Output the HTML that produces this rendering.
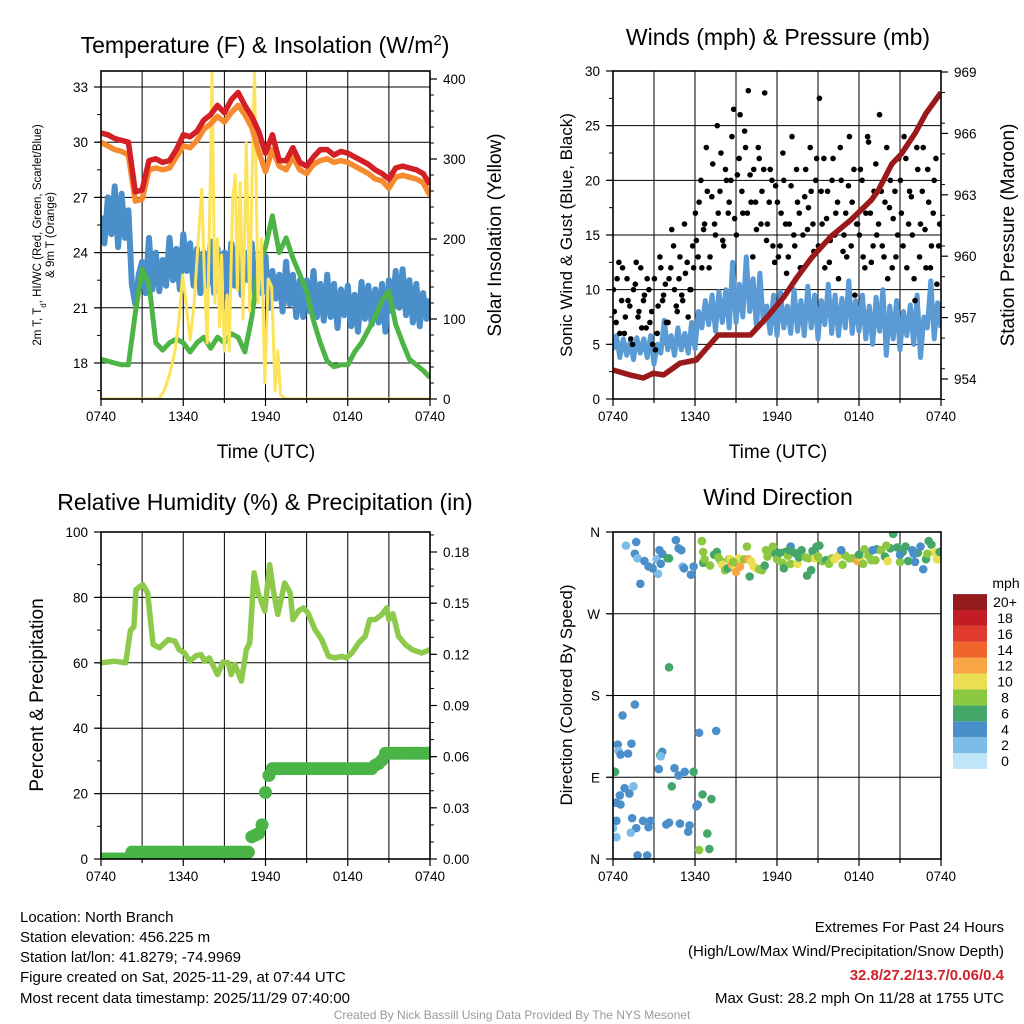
<!DOCTYPE html>
<html><head><meta charset="utf-8"><style>
html,body{margin:0;padding:0;background:#fff;}
svg{display:block;font-family:"Liberation Sans",sans-serif;}
</style></head><body>
<svg id="chart" width="1024" height="1024" viewBox="0 0 1024 1024" xmlns="http://www.w3.org/2000/svg">
<defs>
<clipPath id="c1"><rect x="101" y="71" width="329" height="328"/></clipPath>
<clipPath id="c2"><rect x="613" y="71" width="328" height="328"/></clipPath>
<clipPath id="c3"><rect x="101" y="532" width="329" height="327"/></clipPath>
<clipPath id="c4"><rect x="613" y="532" width="328" height="327"/></clipPath>
</defs>
<text x="265" y="53" font-size="23" text-anchor="middle">Temperature (F) &amp; Insolation (W/m<tspan baseline-shift="super" font-size="15">2</tspan>)</text>
<text x="778" y="45" font-size="23" text-anchor="middle">Winds (mph) &amp; Pressure (mb)</text>
<text x="265" y="510" font-size="23" text-anchor="middle">Relative Humidity (%) &amp; Precipitation (in)</text>
<text x="778" y="505" font-size="23" text-anchor="middle">Wind Direction</text>
<text x="266" y="458" font-size="19" text-anchor="middle">Time (UTC)</text>
<text x="778" y="458" font-size="19" text-anchor="middle">Time (UTC)</text>
<g font-size="11.5" text-anchor="middle">
<text transform="translate(41,235) rotate(-90)">2m T, T<tspan baseline-shift="sub" font-size="8">d</tspan>, HI/WC (Red, Green, Scarlet/Blue)</text>
<text transform="translate(54,235) rotate(-90)">&amp; 9m T (Orange)</text>
</g>
<text transform="translate(501,235) rotate(-90)" font-size="19" text-anchor="middle">Solar Insolation (Yellow)</text>
<text transform="translate(572,235) rotate(-90)" font-size="17" text-anchor="middle">Sonic Wind &amp; Gust (Blue, Black)</text>
<text transform="translate(1014,235) rotate(-90)" font-size="19" text-anchor="middle">Station Pressure (Maroon)</text>
<text transform="translate(43,695) rotate(-90)" font-size="19" text-anchor="middle">Percent &amp; Precipitation</text>
<text transform="translate(572,695) rotate(-90)" font-size="17" text-anchor="middle">Direction (Colored By Speed)</text>
<text x="1006" y="588" font-size="14" text-anchor="middle">mph</text>
<g font-size="15">
<text x="20" y="922">Location: North Branch</text>
<text x="20" y="942">Station elevation: 456.225 m</text>
<text x="20" y="962">Station lat/lon: 41.8279; -74.9969</text>
<text x="20" y="982">Figure created on Sat, 2025-11-29, at 07:44 UTC</text>
<text x="20" y="1003">Most recent data timestamp: 2025/11/29 07:40:00</text>
</g>
<g font-size="15" text-anchor="end">
<text x="1004" y="932">Extremes For Past 24 Hours</text>
<text x="1004" y="956">(High/Low/Max Wind/Precipitation/Snow Depth)</text>
<text x="1004" y="980" fill="#d0202a" font-weight="bold">32.8/27.2/13.7/0.06/0.4</text>
<text x="1004" y="1003">Max Gust: 28.2 mph On 11/28 at 1755 UTC</text>
</g>
<text x="512" y="1019" font-size="12" fill="#999" text-anchor="middle">Created By Nick Bassill Using Data Provided By The NYS Mesonet</text>
<g id="layer"></g>
</svg>
<script>
// ---------- data ----------
const xTickLabels = ["0740","1340","1940","0140","0740"];
const xTickHours = [0,6,12,18,24];
const halfHourStep = 0.5;
const tempRed = [30.5,30.4,30.2,30.1,30.0,27.3,27.4,29.0,29.1,28.9,29.0,29.6,30.4,30.3,30.6,31.2,31.5,32.0,31.6,32.3,32.7,32.0,31.4,30.6,29.4,30.4,29.0,29.0,29.7,28.9,28.7,29.2,29.6,29.6,29.3,29.5,29.4,29.2,29.0,28.8,28.5,28.3,28.0,28.6,28.7,28.6,28.5,28.3,27.7];
const tempOrange = [30.0,29.8,29.6,29.5,29.3,26.8,26.9,28.5,28.6,28.5,28.6,29.2,29.8,29.7,30.1,30.7,31.0,31.4,31.1,31.6,32.0,31.5,30.8,29.5,28.4,29.6,28.7,28.5,29.2,28.5,28.3,28.8,29.0,29.1,28.9,29.0,28.9,28.7,28.5,28.3,28.0,27.9,27.5,28.1,28.2,28.1,28.0,27.8,27.1];
const dewGreen = [18.2,18.1,18.0,17.9,17.9,20.7,23.1,22.3,19.1,18.7,19.1,19.3,19.1,18.6,19.1,19.4,18.8,19.4,19.1,19.6,19.4,18.6,20.5,23.3,24.3,26.0,24.0,24.8,23.7,22.8,21.9,20.3,19.1,18.1,17.8,17.9,17.9,18.6,19.1,19.8,20.5,21.4,21.9,20.1,19.1,18.2,17.9,17.6,17.2];
const quarterStep = 0.25;
const windChillBlue = [26.0,24.5,27.0,25.0,27.6,24.3,27.2,24.8,26.3,22.3,21.2,22.8,23.5,21.8,24.8,22.0,24.0,21.9,23.6,22.2,24.8,22.5,24.2,22.0,25.0,23.0,24.5,22.2,24.2,21.8,24.0,22.2,24.6,21.8,24.2,21.8,24.0,21.5,24.5,22.2,24.7,21.7,24.0,22.5,24.5,21.5,23.5,21.8,23.8,21.0,23.0,21.5,22.8,20.8,23.5,21.2,22.8,20.5,22.5,20.5,22.5,20.8,23.0,20.5,22.3,20.3,22.8,20.5,22.3,19.9,22.0,20.6,22.2,20.0,21.7,19.7,22.4,20.4,22.2,20.1,22.0,20.2,22.3,19.7,22.5,20.8,23.0,21.0,23.1,20.6,22.5,20.2,22.3,20.0,21.8,20.4,21.5];
const solarHours = [0,4.2,4.6,5.0,5.4,5.7,5.95,6.2,6.5,6.8,7.1,7.35,7.55,7.75,7.95,8.1,8.3,8.5,8.65,8.8,9.0,9.2,9.35,9.6,9.8,9.95,10.15,10.35,10.6,10.85,11.0,11.2,11.45,11.7,11.95,12.2,12.45,12.7,12.9,13.1,13.5,24];
const solarValues = [0,0,10,30,60,100,155,120,74,120,200,262,150,70,250,410,120,200,90,180,60,130,60,250,280,136,270,100,320,110,260,410,120,200,20,150,140,10,60,5,0,0];

const sonicWind = [4.5,5.8,3.8,5.5,4.0,5.2,3.6,5.6,4.2,5.5,3.8,5.8,3.2,5.0,4.2,7.2,4.5,5.8,4.0,6.5,4.5,6.0,4.2,7.0,4.6,8.0,6.5,9.0,6.8,9.5,6.2,9.8,7.0,10.0,6.5,12.5,7.0,10.5,7.5,13.0,8.0,11.0,6.5,11.5,7.0,8.5,6.0,9.5,5.8,9.8,6.5,8.5,6.0,10.0,6.2,9.0,5.8,10.3,6.5,9.5,5.5,9.0,6.8,10.5,6.0,9.5,5.8,9.2,6.5,10.8,6.0,9.0,6.2,9.5,5.5,8.5,5.0,9.3,6.2,10.0,4.0,8.5,5.5,9.0,4.5,8.0,5.8,8.6,5.0,9.5,3.8,7.5,6.5,10.8,5.5,8.8,6.5];
const gustStep = 0.2;
const gustValues = [8,11,6,12,7.5,9,5.5,10,12.5,8,6.5,9.5,11,7,5,4.5,8.5,12,9.5,7,11,15.5,10,8,13,9,11.5,7.5,10,12,14.5,18,12,16,19,13,21.5,15,17,22.5,14,20,18,24,16.5,20.5,26,17,23,28.2,18,21,15.5,22,19,28,16,21,14,19.5,13,17,20,11.5,16,24,14,18,12,15,21,17.5,19,13.5,22,27.5,16,12,19,14.5,22,17,11,20,15,13,24,18,9.5,16,21,13,17,23.5,12.5,19,15,26,14,18,11,20,16.5,13,22,17,24,12,19,15,9,21,16,23,12,18,14,20,10.5,16];
const gustValues2 = [10,7,12.5,9,6,11,8.5,5,10.5,7.5,12,9,6.5,10,8,11,6,13,9,10.5,7,12,14,8.5,11,9.5,16,12.5,10,14,17,13,20,15.5,23,12,18.5,16,25,19,14.5,21,17,20,26.5,15,22,19,24.5,17,20.5,13,18,23,16,21,14.5,18,20,12.5,18,14,22.5,16,13,19.5,15,21,17,12,18.5,15.5,23,16,20,14,19,22,16.5,12.5,20,15,18,23,13.5,17,19.5,14,21,16,15,20,12,24,17,14,21.5,16,19,13,23,17.5,12,19,15,20,14,22,16,18.5,11,23,13,19,15.5,21,12,17,22,14];
const pressureHours = [0,1.23,2.2,2.95,3.7,4.9,6.1,7.7,10.06,11.3,12.5,13.5,14.5,16.0,17.4,18.9,19.4,20.4,21.1,22.1,22.9,24];
const pressureValues = [954.44,954.2,954.05,954.28,954.2,954.77,954.93,956.15,956.15,957.04,958.0,959.0,959.9,961.0,961.77,962.74,963.2,964.5,965.0,966.0,966.98,968.0];

const rhHours = [0,1.0,1.8,2.15,2.4,2.55,3.05,3.4,3.8,4.27,4.9,5.4,5.7,6.1,6.46,6.95,7.3,7.56,7.9,8.5,8.9,9.27,9.5,9.76,10.24,10.6,10.85,11.17,11.46,11.95,12.3,12.56,12.9,13.4,13.8,14.0,14.4,14.76,15.1,15.6,16.1,16.6,17.07,17.56,17.9,18.3,18.8,19.27,19.6,20.0,20.5,20.85,21.0,21.3,21.7,22.2,22.7,23.4,24];
const rhValues = [60,60.5,60,70,71,82.4,83.9,81.4,65.6,64.6,67.1,66.6,64,63,60.5,62.2,62.5,60.5,61.5,56.4,60.2,60,56.4,59.5,54.4,64,66,87.5,81.4,75.8,90,82.4,74.8,84.4,81.4,73.2,75.8,76.8,75.3,70.2,67.1,62,61.5,62,61.5,63,66.1,68.1,73.2,73.2,74.8,76.8,73.2,75,68.1,65.6,64,63,64];
const precipValues = [0,0,0,0,0,0,0,0,0,0.004,0.004,0.004,0.004,0.004,0.004,0.004,0.004,0.004,0.004,0.004,0.004,0.004,0.004,0.004,0.004,0.004,0.004,0.004,0.004,0.004,0.004,0.004,0.004,0.004,0.004,0.004,0.004,0.004,0.004,0.004,0.004,0.004,0.004,0.004,0.013,0.014,0.015,0.02,0.039,0.049,0.053,0.053,0.053,0.053,0.053,0.053,0.053,0.053,0.053,0.053,0.053,0.053,0.053,0.053,0.053,0.053,0.053,0.053,0.053,0.053,0.053,0.053,0.053,0.053,0.053,0.053,0.053,0.053,0.053,0.053,0.055,0.056,0.058,0.062,0.062,0.062,0.062,0.062,0.062,0.062,0.062,0.062,0.062,0.062,0.062,0.062,0.062];

const dirHours = [0.95,1.7,1.6,1.8,2.3,2.6,3.2,3.4,3.6,3.5,4.6,4.8,5.0,5.1,5.7,5.9,2.0,3.3,4.1,4.0,2.9,5.2,4.1,1.6,0.7,0.35,1.35,0.4,1.1,0.55,0.1,0.15,0.85,1.5,0.5,1.2,0.2,0.55,1.4,0.25,2.2,2.75,0.0,2.6,5.6,3.6,3.45,6.3,7.55,3.5,3.35,4.5,4.8,5.25,5.9,4.3,7.2,6.55,6.2,6.1,4.1,4.9,5.5,6.9,6.3,7.05,1.8,2.5,3.9,0.25,1.7,1.3,
6.6,6.5,6.6,6.7,7.1,7.4,7.6,7.7,7.9,8.0,8.2,8.4,8.5,8.6,8.7,8.9,9.1,9.2,9.3,9.0,8.8,9.6,9.8,9.9,10.1,10.3,10.5,10.7,10.9,11.2,11.3,11.5,11.7,11.9,12.0,12.2,12.4,12.5,12.6,12.8,13.0,13.3,13.5,13.6,13.8,14.1,14.3,14.5,14.6,14.2,14.8,15.0,15.3,15.6,15.8,16.0,16.2,16.5,16.8,17.0,17.3,17.6,17.9,18.1,18.3,18.4,18.7,18.9,19.2,19.3,19.6,19.9,20.1,20.3,20.5,20.8,21.0,21.2,21.4,21.6,21.9,22.1,22.3,22.5,22.7,22.9,23.1,23.3,23.5,23.7,23.9,22.0,21.0,19.0,16.7,13.0,12.9,14.9,15.1,10.0,11.1,18.0,20.0,23.0];
const dirDegrees = [345,349,336,331,328,322,330,340,336,325,351,342,340,322,313,322,303,314,331,331,320,320,211,170,158,126,127,119,116,115,96,96,78,80,70,72,62,60,45,42,42,42,34,35,37,118,114,139,141,113,99,100,92,96,96,80,66,71,60,58,40,39,30,28,10,11,4,4,38,24,34,29,
338,350,326,330,323,335,338,332,328,324,318,320,330,330,324,322,326,331,322,316,327,330,344,330,328,322,320,319,318,340,333,338,344,336,330,337,326,320,338,334,325,337,325,332,340,332,331,318,339,312,331,333,328,329,325,331,330,334,324,334,331,331,328,332,325,341,334,329,329,341,340,333,328,342,358,343,327,338,344,328,340,327,337,344,319,330,350,346,338,330,338,336,335,340,340,344,340,344,345,311,323,335,345,336];
const dirSpeeds = [2,4,4,2,4,4,2,4,4,4,4,4,4,2,4,4,4,2,6,6,4,4,6,4,4,4,4,2,4,4,4,6,4,2,4,4,4,4,4,4,4,4,2,4,4,4,6,4,4,2,4,4,4,4,6,6,6,6,4,4,4,4,4,6,8,6,4,4,4,2,4,2,
8,8,6,8,8,6,6,8,8,10,8,6,8,10,12,10,14,10,12,12,8,8,8,12,10,10,10,8,8,8,8,8,8,6,8,6,8,6,6,8,8,6,10,6,6,8,8,6,6,6,10,8,8,6,8,8,10,10,8,8,8,8,12,10,8,8,8,8,8,6,8,6,10,6,6,6,8,6,6,6,4,4,6,4,4,6,6,6,10,10,6,4,4,4,4,4,6,6,6,6,6,6,8,8];
const speedBins = [0,2,4,6,8,10,12,14,16,18,20];
const speedLabels = ["0","2","4","6","8","10","12","14","16","18","20+"];
const speedColors = ["#bfe6f8","#7dbce8","#4a8fca","#45a66a","#8cc840","#eadf52","#f8a546","#f0652b","#e03a2e","#c21d24","#941b1c"];

// ---------- helpers ----------
const NS="http://www.w3.org/2000/svg";
const layer=document.getElementById('layer');
function el(tag,attrs,parent){const e=document.createElementNS(NS,tag);for(const k in attrs)e.setAttribute(k,attrs[k]);(parent||layer).appendChild(e);return e;}
function lin(d0,d1,r0,r1){return v=>r0+(v-d0)*(r1-r0)/(d1-d0);}
function pathFrom(xs,ys){return xs.map((x,i)=>(i?'L':'M')+x.toFixed(1)+' '+ys[i].toFixed(1)).join(' ');}

function frame(P,name){
  const g=el('g',{});
  
  
  for(let h=0;h<=24;h+=3){const x=P.x(h);
    const l=el('line',{x1:x,x2:x,y1:P.top,y2:P.bot,stroke:'#000','stroke-width':1},g);
    
    
    const t=el('line',{x1:x,x2:x,y1:P.bot,y2:P.bot+(h%6?4:7),stroke:'#000','stroke-width':1.2},g);
    
    
  }
  xTickHours.forEach((h,i)=>{const t=el('text',{x:P.x(h),y:P.bot+22,'font-size':13.5,'text-anchor':'middle'},g);t.textContent=xTickLabels[i];
    
    });
  return g;
}
function border(P,name){
  const r=el('rect',{x:P.left,y:P.top,width:P.right-P.left,height:P.bot-P.top,fill:'none',stroke:'#000','stroke-width':1.6});
  
  
}
function yAxis(P,scale,majors,labels,minorStep,lo,hi,side,grid,name){
  const g=el('g',{});
  
  
  const X = side==='left'?P.left:P.right, dir=side==='left'?-1:1;
  for(let v=lo; v<=hi+1e-9; v+=minorStep){const y=scale(v); if(y<P.top-0.5||y>P.bot+0.5)continue;
    const t=el('line',{x1:X,x2:X+dir*4,y1:y,y2:y,stroke:'#000','stroke-width':1},g);
    
    }
  majors.forEach((v,i)=>{const y=scale(v);
    if(grid){const l=el('line',{x1:P.left,x2:P.right,y1:y,y2:y,stroke:'#000','stroke-width':1},g);
      
      }
    const t=el('line',{x1:X,x2:X+dir*7,y1:y,y2:y,stroke:'#000','stroke-width':1.2},g);
    
    
    const tx=el('text',{x:X+dir*13,y:y+5,'font-size':13.5,'text-anchor':side==='left'?'end':'start'},g);tx.textContent=labels[i];
    
    });
}

// ---------- panel 1 ----------
const P1={left:101,right:430,top:71,bot:399};P1.x=lin(0,24,P1.left,P1.right);
const t1=lin(18,33,363,87), s1=lin(0,400,399,79);
frame(P1,'temperature');
yAxis(P1,t1,[18,21,24,27,30,33],["18","21","24","27","30","33"],1.5,16.5,34,'left',true,'temperature-y-axis');
yAxis(P1,s1,[0,100,200,300,400],["0","100","200","300","400"],20,0,410,'right',false,'insolation-y-axis');
{const g=el('g',{'clip-path':'url(#c1)',fill:'none','stroke-linejoin':'round'});
 
 
 const hx=a=>a.map((_,i)=>P1.x(i*halfHourStep)), qx=a=>a.map((_,i)=>P1.x(i*quarterStep));
 let p=el('path',{d:pathFrom(qx(windChillBlue),windChillBlue.map(t1)),stroke:'#4a8fc9','stroke-width':6},g);
 
 
 p=el('path',{d:pathFrom(hx(dewGreen),dewGreen.map(t1)),stroke:'#4db446','stroke-width':5},g);
 
 
 p=el('path',{d:pathFrom(solarHours.map(P1.x),solarValues.map(s1)),stroke:'#fde35a','stroke-width':3},g);
 
 
 p=el('path',{d:pathFrom(hx(tempOrange),tempOrange.map(t1)),stroke:'#f68a2f','stroke-width':5.5},g);
 
 
 p=el('path',{d:pathFrom(hx(tempRed),tempRed.map(t1)),stroke:'#d31f26','stroke-width':5.5},g);
 
 
}
border(P1,'temperature');

// ---------- panel 2 ----------
const P2={left:613,right:941,top:71,bot:399};P2.x=lin(0,24,P2.left,P2.right);
const w2=lin(0,30,399,71), p2=lin(954,969,379,72);
frame(P2,'winds');
yAxis(P2,w2,[0,5,10,15,20,25,30],["0","5","10","15","20","25","30"],2.5,0,30,'left',true,'wind-y-axis');
yAxis(P2,p2,[954,957,960,963,966,969],["954","957","960","963","966","969"],1.5,953,969,'right',false,'pressure-y-axis');
{const g=el('g',{'clip-path':'url(#c2)',fill:'none','stroke-linejoin':'round'});
 
 
 let p=el('path',{d:pathFrom(sonicWind.map((_,i)=>P2.x(i*quarterStep)),sonicWind.map(w2)),stroke:'#5b9bd5','stroke-width':5},g);
 
 
 gustValues.forEach((v,i)=>{const c=el('circle',{cx:P2.x(0.1+i*gustStep),cy:w2(v),r:2.8,fill:'#000'},g);
   
   });
 gustValues2.forEach((v,i)=>{const c=el('circle',{cx:P2.x(0.03+i*gustStep),cy:w2(v),r:2.8,fill:'#000'},g);
   
   });
 p=el('path',{d:pathFrom(pressureHours.map(P2.x),pressureValues.map(p2)),stroke:'#9a1a1c','stroke-width':5.5},g);
 
 
}
border(P2,'winds');

// ---------- panel 3 ----------
const P3={left:101,right:430,top:532,bot:859};P3.x=lin(0,24,P3.left,P3.right);
const r3=lin(0,100,859,532), q3=lin(0,0.18,859,552);
frame(P3,'humidity');
yAxis(P3,r3,[0,20,40,60,80,100],["0","20","40","60","80","100"],10,0,100,'left',true,'humidity-y-axis');
yAxis(P3,q3,[0,0.03,0.06,0.09,0.12,0.15,0.18],["0.00","0.03","0.06","0.09","0.12","0.15","0.18"],0.01,0,0.19,'right',false,'precipitation-y-axis');
{const g=el('g',{'clip-path':'url(#c3)','stroke-linejoin':'round'});
 
 
 let p=el('path',{d:pathFrom(rhHours.map(P3.x),rhValues.map(r3)),stroke:'#8dc94a','stroke-width':5.5,fill:'none'},g);
 
 
 precipValues.forEach((v,i)=>{const c=el('circle',{cx:P3.x(i*quarterStep),cy:q3(v),r:6.5,fill:'#4ab446'},g);
   
   });
}
border(P3,'humidity');

// ---------- panel 4 ----------
const P4={left:613,right:941,top:532,bot:859};P4.x=lin(0,24,P4.left,P4.right);
const d4=lin(0,360,859,532);
frame(P4,'wind-direction');
yAxis(P4,d4,[0,90,180,270,360],["N","E","S","W","N"],90,0,360,'left',true,'direction-y-axis');
function speedColor(s){let k=0;speedBins.forEach((b,i)=>{if(s>=b)k=i;});return speedColors[k];}
{const g=el('g',{'clip-path':'url(#c4)'});
 
 
 dirHours.forEach((h,i)=>{const c=el('circle',{cx:P4.x(h),cy:d4(dirDegrees[i]),r:4.3,fill:speedColor(dirSpeeds[i])},g);
   
   });
}
border(P4,'wind-direction');
{const g=el('g',{});
 
 
 const bx=953,bw=34,bh=15.9,bottom=769;
 speedColors.forEach((c,i)=>{const y=bottom-(i+1)*bh;
   const r=el('rect',{x:bx,y:y,width:bw,height:bh,fill:c},g);
   
   
   const t=el('text',{x:1005,y:y+bh/2+5,'font-size':14,'text-anchor':'middle'},g);t.textContent=speedLabels[i];
   
   });
}
</script>
</body></html>
